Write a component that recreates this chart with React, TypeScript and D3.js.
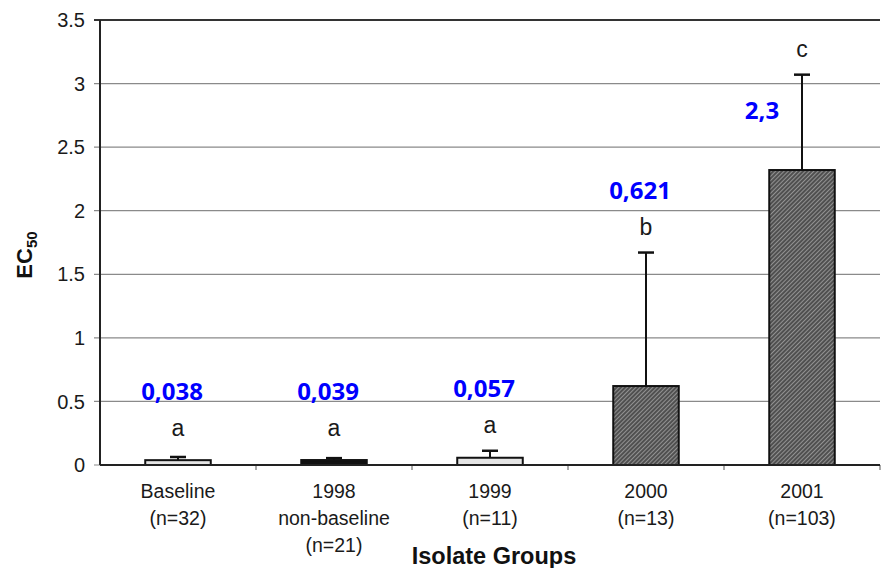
import React from "react";
import * as d3 from "d3";

const width = 881;
const height = 568;
const margin = { top: 20, right: 1, bottom: 103, left: 100 };

// chart data
const groups = ["Baseline", "1998", "1999", "2000", "2001"];
const subLabels = ["(n=32)", "non-baseline", "(n=11)", "(n=13)", "(n=103)"];
const subLabels2 = ["", "(n=21)", "", "", ""];
const means = [0.038, 0.039, 0.057, 0.621, 2.32];
const errors = [0.025, 0.015, 0.055, 1.05, 0.75];
const letters = ["a", "a", "a", "b", "c"];
const annotations = ["0,038", "0,039", "0,057", "0,621", "2,3"];
const fillKinds = ["light", "dark", "light", "hatch", "hatch"];
const yTicks = [0, 0.5, 1, 1.5, 2, 2.5, 3, 3.5];

const fillFor = (k: string) =>
  k === "light" ? "#e4e4e4" : k === "dark" ? "#111" : "url(#hatch)";

export default function App() {
  const x = d3
    .scaleBand()
    .domain(groups)
    .range([margin.left, width - margin.right])
    .paddingInner(0.58)
    .paddingOuter(0.29);

  const y = d3
    .scaleLinear()
    .domain([0, 3.5])
    .range([height - margin.bottom, margin.top]);

  const step = x.step();
  const y0 = y(0);

  return (
    <svg
      width={width}
      height={height}
      style={{ position: "absolute", left: 0, top: 0, background: "#fff" }}
      fontFamily="'Liberation Sans', Arial, sans-serif"
    >
      <defs>
        <pattern
          id="hatch"
          width="3"
          height="3"
          patternUnits="userSpaceOnUse"
          patternTransform="rotate(45)"
        >
          <rect width="3" height="3" fill="#505050" />
          <line x1="0" y1="0" x2="0" y2="3" stroke="#d4d4d4" strokeWidth="1" />
        </pattern>
      </defs>

      {/* grid */}
      {yTicks.map((t) => (
        <g key={t}>
          <line
            x1={margin.left - 6}
            x2={width - margin.right}
            y1={y(t)}
            y2={y(t)}
            stroke={t === 3.5 ? "#333" : "#8a8a8a"}
            strokeWidth={t === 3.5 ? 2 : 1.2}
          />
          <text
            x={margin.left - 15}
            y={y(t)}
            dy="0.36em"
            textAnchor="end"
            fontSize={20}
            fill="#1a1a1a"
          >
            {t}
          </text>
        </g>
      ))}

      {/* category ticks */}
      {groups.map((g, i) => (
        <line
          key={g}
          x1={margin.left + step * (i + 1)}
          x2={margin.left + step * (i + 1)}
          y1={y0}
          y2={y0 + 5}
          stroke="#555"
          strokeWidth={1}
        />
      ))}

      {/* bars */}
      {groups.map((g, i) => {
        const bx = x(g) as number;
        const cx = bx + x.bandwidth() / 2;
        const top = y(means[i]);
        const errTop = y(means[i] + errors[i]);
        const letterY = Math.min(errTop - 18, y0 - 29);
        let annX = cx - 6;
        let annY = letterY - 36;
        if (annY < margin.top + 10) {
          annX = cx - 40;
          annY = (top + errTop) / 2 - 3;
        }
        return (
          <g key={g}>
            <line x1={cx} x2={cx} y1={top} y2={errTop} stroke="#111" strokeWidth={2} />
            <line
              x1={cx - 8}
              x2={cx + 8}
              y1={errTop}
              y2={errTop}
              stroke="#111"
              strokeWidth={2.5}
            />
            <rect
              x={bx}
              y={top}
              width={x.bandwidth()}
              height={y0 - top}
              fill={fillFor(fillKinds[i])}
              stroke="#111"
              strokeWidth={2}
            />
            <text x={cx} y={letterY} textAnchor="middle" fontSize={23} fill="#1a1a1a">
              {letters[i]}
            </text>
            <text
              x={annX}
              y={annY}
              textAnchor="middle"
              fontSize={24}
              fontWeight="bold"
              fontFamily="'Open Sans', sans-serif"
              fill="#0000ff"
            >
              {annotations[i]}
            </text>
            <text x={cx} y={498} textAnchor="middle" fontSize={19.5} fill="#1a1a1a">
              {g}
            </text>
            <text x={cx} y={525} textAnchor="middle" fontSize={19.5} fill="#1a1a1a">
              {subLabels[i]}
            </text>
            {subLabels2[i] && (
              <text x={cx} y={552} textAnchor="middle" fontSize={19.5} fill="#1a1a1a">
                {subLabels2[i]}
              </text>
            )}
          </g>
        );
      })}

      {/* axes */}
      <line
        x1={margin.left}
        x2={margin.left}
        y1={margin.top}
        y2={y0}
        stroke="#222"
        strokeWidth={2}
      />
      <line
        x1={margin.left}
        x2={width - margin.right}
        y1={y0}
        y2={y0}
        stroke="#222"
        strokeWidth={2}
      />

      <text
        x={494}
        y={564}
        textAnchor="middle"
        fontSize={23.5}
        fontWeight="bold"
        fill="#111"
      >
        Isolate Groups
      </text>
      <text
        transform="translate(32,255) rotate(-90)"
        textAnchor="middle"
        fontSize={22}
        fontWeight="bold"
        fill="#111"
      >
        EC
        <tspan fontSize={15} dy={5}>
          50
        </tspan>
      </text>
    </svg>
  );
}
